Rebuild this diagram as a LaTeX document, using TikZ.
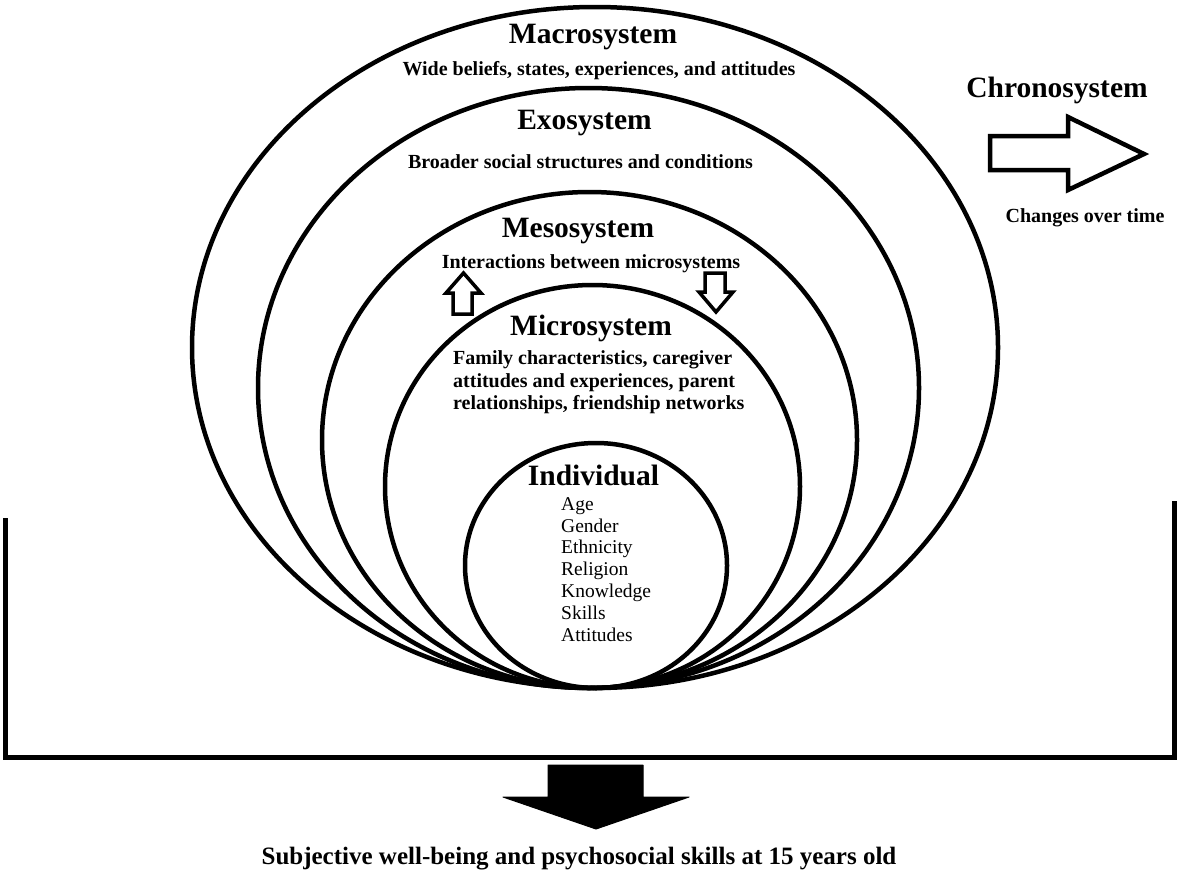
\documentclass[tikz,border=0pt]{standalone}
\usepackage{fontspec}
\setmainfont{Liberation Serif}
\begin{document}
\begin{tikzpicture}[x=1pt,y=-1pt,
  ring/.style={line width=4.5pt},
  title/.style={font=\fontsize{29.5}{32}\selectfont\bfseries, anchor=base, inner sep=0pt},
  desc/.style={font=\fontsize{20}{22}\selectfont\bfseries, anchor=base, inner sep=0pt},
  item/.style={font=\fontsize{19.5}{22}\selectfont, anchor=base west, inner sep=0pt},
  hollowarrow/.style={line width=4.5pt, line join=miter, fill=white},
  smallarrow/.style={line width=3.5pt, line join=miter, fill=white},
  bracket/.style={line width=5pt},
  bigarrow/.style={fill=black, draw=black, line width=1pt, line join=round}
]
\useasboundingbox (0,0) rectangle (1177,870);

% nested ellipses
\draw[ring] (595,347.5) ellipse (403 and 340.5);
\draw[ring] (588.5,388) ellipse (330.5 and 300);
\draw[ring] (589.5,440) ellipse (267.5 and 248);
\draw[ring] (592.5,486.5) ellipse (207.5 and 201.5);
\draw[ring] (596,565.5) ellipse (131 and 122.5);

% texts
\node[title] (macro) at (593,43) {Macrosystem};
\node[desc] (macrod) at (599,75) {Wide beliefs, states, experiences, and attitudes};
\node[title] (exo) at (584.5,129) {Exosystem};
\node[desc] (exod) at (580.5,168) {Broader social structures and conditions};
\node[title] (meso) at (578,237) {Mesosystem};
\node[desc] (mesod) at (591,268) {Interactions between microsystems};
\node[title] (micro) at (591,335) {Microsystem};
\node[desc, anchor=base west] (microa) at (453,364) {Family characteristics, caregiver};
\node[desc, anchor=base west] (microb) at (453,387) {attitudes and experiences, parent};
\node[desc, anchor=base west] (microc) at (453,409) {relationships, friendship networks};
\node[title] (indiv) at (593.5,485) {Individual};
\node[item] (i1) at (561,510) {Age};
\node[item] (i2) at (561,532) {Gender};
\node[item] (i3) at (561,553.5) {Ethnicity};
\node[item] (i4) at (561,575.5) {Religion};
\node[item] (i5) at (561,597) {Knowledge};
\node[item] (i6) at (561,619) {Skills};
\node[item] (i7) at (561,641) {Attitudes};

\node[title] (chrono) at (1057,97) {Chronosystem};
\node[desc] (chronod) at (1085,222) {Changes over time};

% chronosystem arrow
\draw[hollowarrow] (990,136) -- (1068,136) -- (1068,117) -- (1144,154) -- (1068,190) -- (1068,170) -- (990,170) -- cycle;

% small mesosystem arrows
\draw[smallarrow] (453,314) -- (453,293) -- (446,293) -- (463.5,273) -- (481,293) -- (472,293) -- (472,314) -- cycle;
\draw[smallarrow] (705,273) -- (725,273) -- (725,292) -- (733,292) -- (716,312) -- (699,292) -- (705,292) -- cycle;

% bracket
\draw[bracket] (5,518) -- (5,757.5) -- (1174,757.5) -- (1174,501);

% outcome arrow
\draw[bigarrow] (548,765) -- (643,765) -- (643,797) -- (689,797) -- (596,829) -- (503,797) -- (548,797) -- cycle;
\node[font=\fontsize{25}{28}\selectfont\bfseries, anchor=base, inner sep=0pt] (outcome) at (579,864) {Subjective well-being and psychosocial skills at 15 years old};
\end{tikzpicture}
\end{document}
